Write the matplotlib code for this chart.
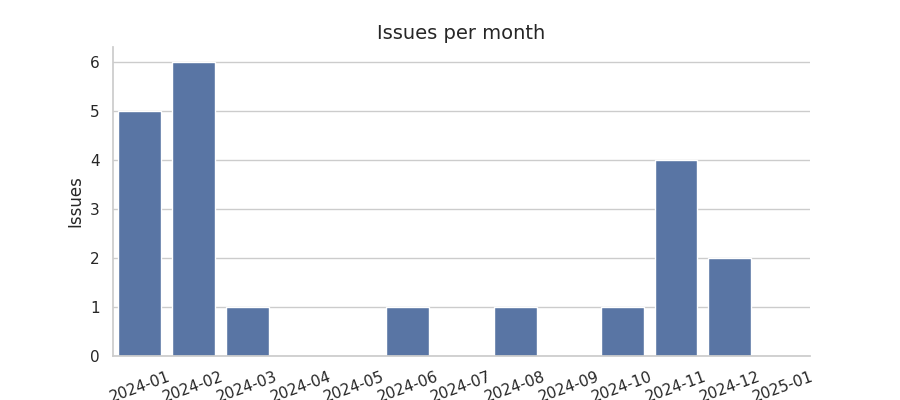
import matplotlib
matplotlib.use("Agg")
import matplotlib.pyplot as plt
import seaborn as sns
import pandas as pd

months = ["2024-01", "2024-02", "2024-03", "2024-04", "2024-05", "2024-06", "2024-07",
          "2024-08", "2024-09", "2024-10", "2024-11", "2024-12", "2025-01"]
issues = [5, 6, 1, 0, 0, 1, 0, 1, 0, 1, 4, 2, 0]

sns.set_theme(style="whitegrid")
df = pd.DataFrame({"month": months, "issues": issues})

fig = plt.figure(figsize=(9, 4), dpi=100)
ax = fig.add_axes([0.1256, 0.11, 0.7744, 0.7725])
sns.barplot(data=df, x="month", y="issues", ax=ax, color=sns.color_palette("deep")[0])
ax.set_title("Issues per month", fontsize=14)
ax.set_xlabel("")
ax.set_ylabel("Issues")
ax.tick_params(axis="x", rotation=20)
sns.despine(ax=ax)
fig.savefig("out.png", dpi=100)
